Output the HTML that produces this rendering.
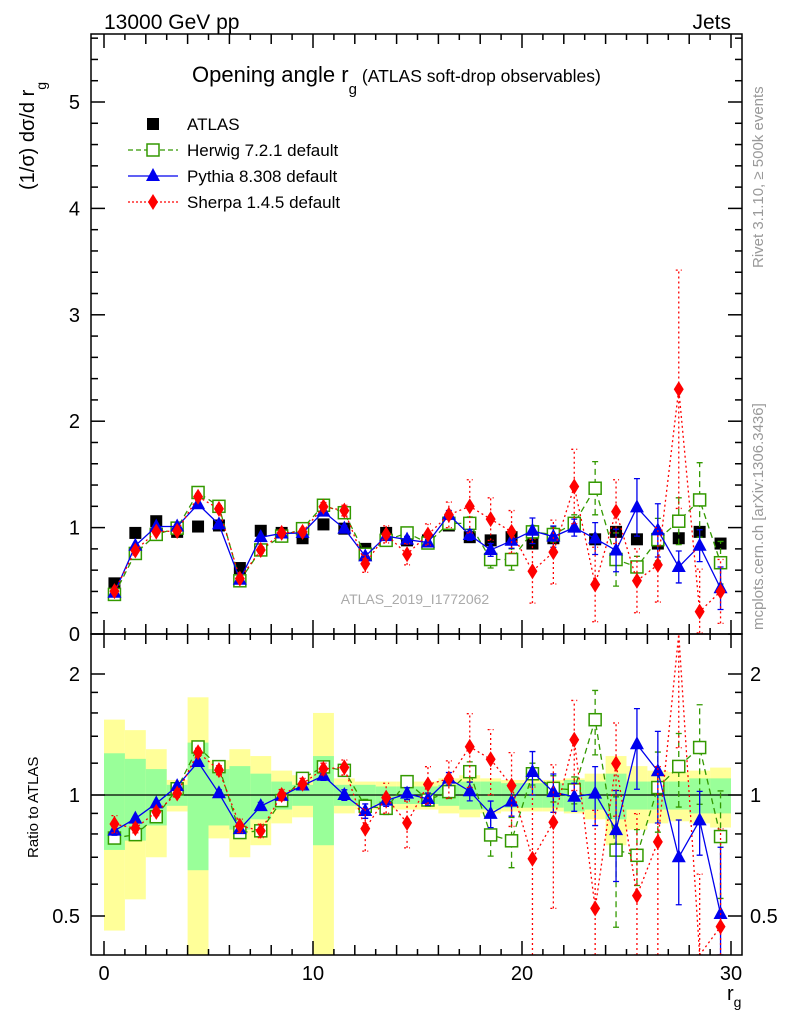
<!DOCTYPE html>
<html><head><meta charset="utf-8"><style>
html,body{margin:0;padding:0;background:#fff;overflow:hidden;width:786px;height:1024px;}
svg{display:block;position:absolute;left:0;top:0;font-family:"Liberation Sans",sans-serif;}
</style></head><body>
<svg id="chart" width="786" height="1024" viewBox="0 0 786 1024" xmlns="http://www.w3.org/2000/svg">
<defs>
<clipPath id="clipMain"><rect x="91" y="34" width="651" height="600"/></clipPath>
<clipPath id="clipRatio"><rect x="91" y="634" width="651" height="321"/></clipPath>
</defs>
<g id="bands" clip-path="url(#clipRatio)"></g>
<g id="series"></g>
<g id="axes"></g>
<text x="104" y="29" font-size="21">13000 GeV pp</text>
<text x="731" y="29" font-size="21" text-anchor="end">Jets</text>
<text x="192" y="82" font-size="22">Opening angle r<tspan font-size="15" dy="12">g</tspan><tspan font-size="17.5" dy="-12" dx="5">(ATLAS soft-drop observables)</tspan></text>
<text transform="translate(34,190) rotate(-90)" font-size="20">(1/σ) dσ/d r<tspan font-size="14" dy="12">g</tspan></text>
<text transform="translate(38,858) rotate(-90)" font-size="15">Ratio to ATLAS</text>
<text transform="translate(763,268) rotate(-90)" font-size="15" fill="#999">Rivet 3.1.10, ≥ 500k events</text>
<text transform="translate(763,630) rotate(-90)" font-size="15" fill="#999">mcplots.cern.ch [arXiv:1306.3436]</text>
<text x="415" y="604" font-size="14" fill="#aaa" text-anchor="middle">ATLAS_2019_I1772062</text>
<text x="727" y="1000" font-size="20">r<tspan font-size="14" dy="7">g</tspan></text>
<g id="legend"></g>
</svg>
<script>
const categories = [0.5,1.5,2.5,3.5,4.5,5.5,6.5,7.5,8.5,9.5,10.5,11.5,12.5,13.5,14.5,15.5,16.5,17.5,18.5,19.5,20.5,21.5,22.5,23.5,24.5,25.5,26.5,27.5,28.5,29.5];
const atlasValues = [0.476,0.95,1.06,0.96,1.01,1.02,0.62,0.97,0.95,0.90,1.03,0.99,0.80,0.95,0.88,0.88,1.02,0.91,0.88,0.91,0.85,0.90,1.01,0.89,0.96,0.89,0.85,0.90,0.96,0.85];
const atlasStatRel = [0.27,0.23,0.16,0.06,0.35,0.16,0.18,0.13,0.08,0.06,0.25,0.06,0.06,0.05,0.05,0.05,0.06,0.08,0.08,0.07,0.07,0.07,0.09,0.08,0.13,0.08,0.08,0.08,0.10,0.10];
const atlasTotalRel = [0.54,0.45,0.30,0.09,0.75,0.22,0.30,0.25,0.15,0.12,0.60,0.10,0.08,0.08,0.08,0.08,0.10,0.12,0.10,0.09,0.09,0.09,0.10,0.13,0.25,0.18,0.15,0.14,0.15,0.17];
const herwigValues = [0.372,0.757,0.936,0.995,1.33,1.20,0.50,0.79,0.92,0.99,1.21,1.14,0.75,0.88,0.95,0.855,1.04,1.04,0.70,0.70,0.96,0.935,1.04,1.37,0.70,0.63,0.887,1.06,1.26,0.67];
const herwigErr = [0.01,0.01,0.01,0.01,0.02,0.02,0.01,0.02,0.02,0.02,0.03,0.03,0.03,0.03,0.03,0.03,0.04,0.06,0.08,0.10,0.06,0.07,0.08,0.25,0.25,0.10,0.20,0.22,0.35,0.20];
const pythiaValues = [0.388,0.83,1.01,1.01,1.22,1.03,0.51,0.91,0.945,0.95,1.15,0.99,0.73,0.92,0.887,0.86,1.12,0.93,0.79,0.876,0.97,0.915,1.0,0.897,0.785,1.19,0.974,0.63,0.83,0.43];
const pythiaErr = [0.01,0.01,0.01,0.01,0.02,0.02,0.01,0.02,0.02,0.02,0.03,0.03,0.03,0.03,0.03,0.03,0.04,0.05,0.06,0.07,0.12,0.10,0.08,0.15,0.20,0.27,0.25,0.15,0.15,0.20];
const sherpaValues = [0.403,0.785,0.962,0.968,1.29,1.176,0.52,0.79,0.95,0.96,1.196,1.16,0.66,0.936,0.75,0.935,1.12,1.20,1.08,0.96,0.59,0.77,1.386,0.465,1.15,0.50,0.65,2.30,0.21,0.40];
const sherpaErr = [0.02,0.02,0.02,0.02,0.03,0.03,0.02,0.03,0.03,0.03,0.04,0.05,0.08,0.08,0.10,0.10,0.12,0.25,0.20,0.20,0.30,0.30,0.35,0.35,0.30,0.30,0.35,1.12,0.40,0.30];
const mainYTicks = [0,1,2,3,4,5];
const ratioYTicks = [0.5,1,2];
const xTicks = [0,10,20,30];

const NS = "http://www.w3.org/2000/svg";
const L=91,R=742,MT=34,MB=634,RT=634,RB=955;
function xPx(v){return 104 + v*20.9;}
function yMain(v){return Math.min(MB,Math.max(MT,634 - v*106.4));}
function yRatio(r){return Math.min(RB,Math.max(RT,795 - Math.log2(Math.max(r,0.01))*121));}
function mk(tag,attrs,parent){const e=document.createElementNS(NS,tag);for(const k in attrs)e.setAttribute(k,attrs[k]);parent.appendChild(e);return e;}

const bands=document.getElementById('bands');
categories.forEach((c,i)=>{
  const x0=xPx(c-0.5),x1=xPx(c+0.5);
  const yt=yRatio(1+atlasTotalRel[i]),yb=yRatio(1-atlasTotalRel[i]);
  const y=mk('rect',{x:x0,y:yt,width:x1-x0,height:yb-yt,fill:'#ffff99'},bands);
  
  
});
categories.forEach((c,i)=>{
  const x0=xPx(c-0.5),x1=xPx(c+0.5);
  const yt=yRatio(1+atlasStatRel[i]),yb=yRatio(1-atlasStatRel[i]);
  const g=mk('rect',{x:x0,y:yt,width:x1-x0,height:yb-yt,fill:'#99ff99'},bands);
  
  
});
const ref=mk('line',{x1:L,x2:R,y1:yRatio(1),y2:yRatio(1),stroke:'#000','stroke-width':1.2},bands);



function marker(type,x,y,color,parent,name){
  let e;
  if(type==='sq') e=mk('rect',{x:x-6,y:y-6,width:12,height:12,fill:'#000'},parent);
  else if(type==='osq') e=mk('rect',{x:x-6,y:y-6,width:12,height:12,fill:'#fff',stroke:color,'stroke-width':1.5},parent);
  else if(type==='tri') e=mk('polygon',{points:`${x},${y-8} ${x-7},${y+5} ${x+7},${y+5}`,fill:color},parent);
  else e=mk('polygon',{points:`${x},${y-8} ${x-5},${y} ${x},${y+8} ${x+5},${y}`,fill:color},parent);
  
  
}
const seriesLayer=document.getElementById('series');
const gm=mk('g',{'clip-path':'url(#clipMain)'},seriesLayer);
const gr=mk('g',{'clip-path':'url(#clipRatio)'},seriesLayer);
const specs=[
 {vals:herwigValues,err:herwigErr,color:'#339900',dash:'6,4',type:'osq',name:'herwig'},
 {vals:pythiaValues,err:pythiaErr,color:'#0000ee',dash:'',type:'tri',name:'pythia'},
 {vals:sherpaValues,err:sherpaErr,color:'#ff0000',dash:'2,3',type:'dia',name:'sherpa'}
];
function drawSeries(s,g,yf,ratio,top,bot){
  const pts=categories.map((c,i)=>{const v=ratio? s.vals[i]/atlasValues[i]:s.vals[i];return [xPx(c),yf(v)];});
  const pl=mk('polyline',{points:pts.map(p=>p.join(',')).join(' '),fill:'none',stroke:s.color,'stroke-width':1.3,'stroke-dasharray':s.dash},g);
  
  
  categories.forEach((c,i)=>{
    const d=ratio?atlasValues[i]:1;
    const lo=Math.max((s.vals[i]-s.err[i])/d,0.01),hi=(s.vals[i]+s.err[i])/d;
    const x=xPx(c);
    if(yf(lo)-yf(hi)>6){
      const eb=mk('path',{d:`M${x},${yf(lo)}V${yf(hi)}M${x-3},${yf(lo)}h6M${x-3},${yf(hi)}h6`,stroke:s.color,'stroke-width':1.3,'stroke-dasharray':s.dash,fill:'none'},g);
      
      
    }
  });
  categories.forEach((c,i)=>{const v=ratio? s.vals[i]/atlasValues[i]:s.vals[i];const y=yf(v);if(y>top+2&&y<bot-2)marker(s.type,xPx(c),y,s.color,g,s.name+'-point');});
}
categories.forEach((c,i)=>marker('sq',xPx(c),yMain(atlasValues[i]),'#000',gm,'atlas-point'));
specs.forEach(s=>{drawSeries(s,gm,yMain,false,MT,MB);drawSeries(s,gr,yRatio,true,RT,RB);});

const ax=document.getElementById('axes');
function line(x1,y1,x2,y2,name){const l=mk('line',{x1,y1,x2,y2,stroke:'#000','stroke-width':1.5},ax);}
const f1=mk('rect',{x:L,y:MT,width:R-L,height:MB-MT,fill:'none',stroke:'#000','stroke-width':1.5},ax);


const f2=mk('rect',{x:L,y:RT,width:R-L,height:RB-RT,fill:'none',stroke:'#000','stroke-width':1.5},ax);


for(let v=0;v<=30;v++){
  const len=v%10===0?14:(v%2===0?10:6);const x=xPx(v);
  line(x,MB,x,MB-len,'x-tick');line(x,MT,x,MT+len,'x-tick');
  line(x,RB,x,RB-len,'x-tick');line(x,RT,x,RT+len,'x-tick');
}
for(let k=0;k<=28;k++){const v=k*0.2;const y=634-v*106.4;if(y<MT)continue;const len=k%5===0?14:7;line(L,y,L+len,y,'y-tick');line(R,y,R-len,y,'y-tick');}
[0.5,0.6,0.7,0.8,0.9,1,2].forEach(v=>{const y=yRatio(v);const len=ratioYTicks.includes(v)?14:7;line(L,y,L+len,y,'ratio-y-tick');line(R,y,R-len,y,'ratio-y-tick');});
[1.2,1.4,1.6,1.8].forEach(v=>{const y=yRatio(v);line(L,y,L+7,y,'ratio-y-tick');line(R,y,R-7,y,'ratio-y-tick');});
function txt(x,y,s,anchor,size,name){const t=mk('text',{x,y,'font-size':size,'text-anchor':anchor},ax);t.textContent=s;}
mainYTicks.forEach(v=>txt(80,yMain(v)+7,String(v),'end',20,'y-tick-label'));
ratioYTicks.forEach(v=>{txt(80,yRatio(v)+7,String(v),'end',20,'ratio-y-tick-label');txt(750,yRatio(v)+7,String(v),'start',20,'ratio-y-tick-label-right');});
xTicks.forEach(v=>txt(xPx(v),980,String(v),'middle',20,'x-tick-label'));

const lg=document.getElementById('legend');
const lrows=[['ATLAS',null,'sq',''],['Herwig 7.2.1 default','#339900','osq','5,3'],['Pythia 8.308 default','#0000ee','tri',''],['Sherpa 1.4.5 default','#ff0000','dia','2,2']];
lrows.forEach((r,i)=>{
  const y=124+i*26;
  if(r[1]){const l=mk('line',{x1:128,x2:178,y1:y,y2:y,stroke:r[1],'stroke-width':1.3,'stroke-dasharray':r[3]},lg);}
  marker(r[2],153,y,r[1]||'#000',lg,'legend-marker');
  const t=mk('text',{x:187,y:y+6,'font-size':17},lg);t.textContent=r[0];
  
  
});
</script>
</body></html>
